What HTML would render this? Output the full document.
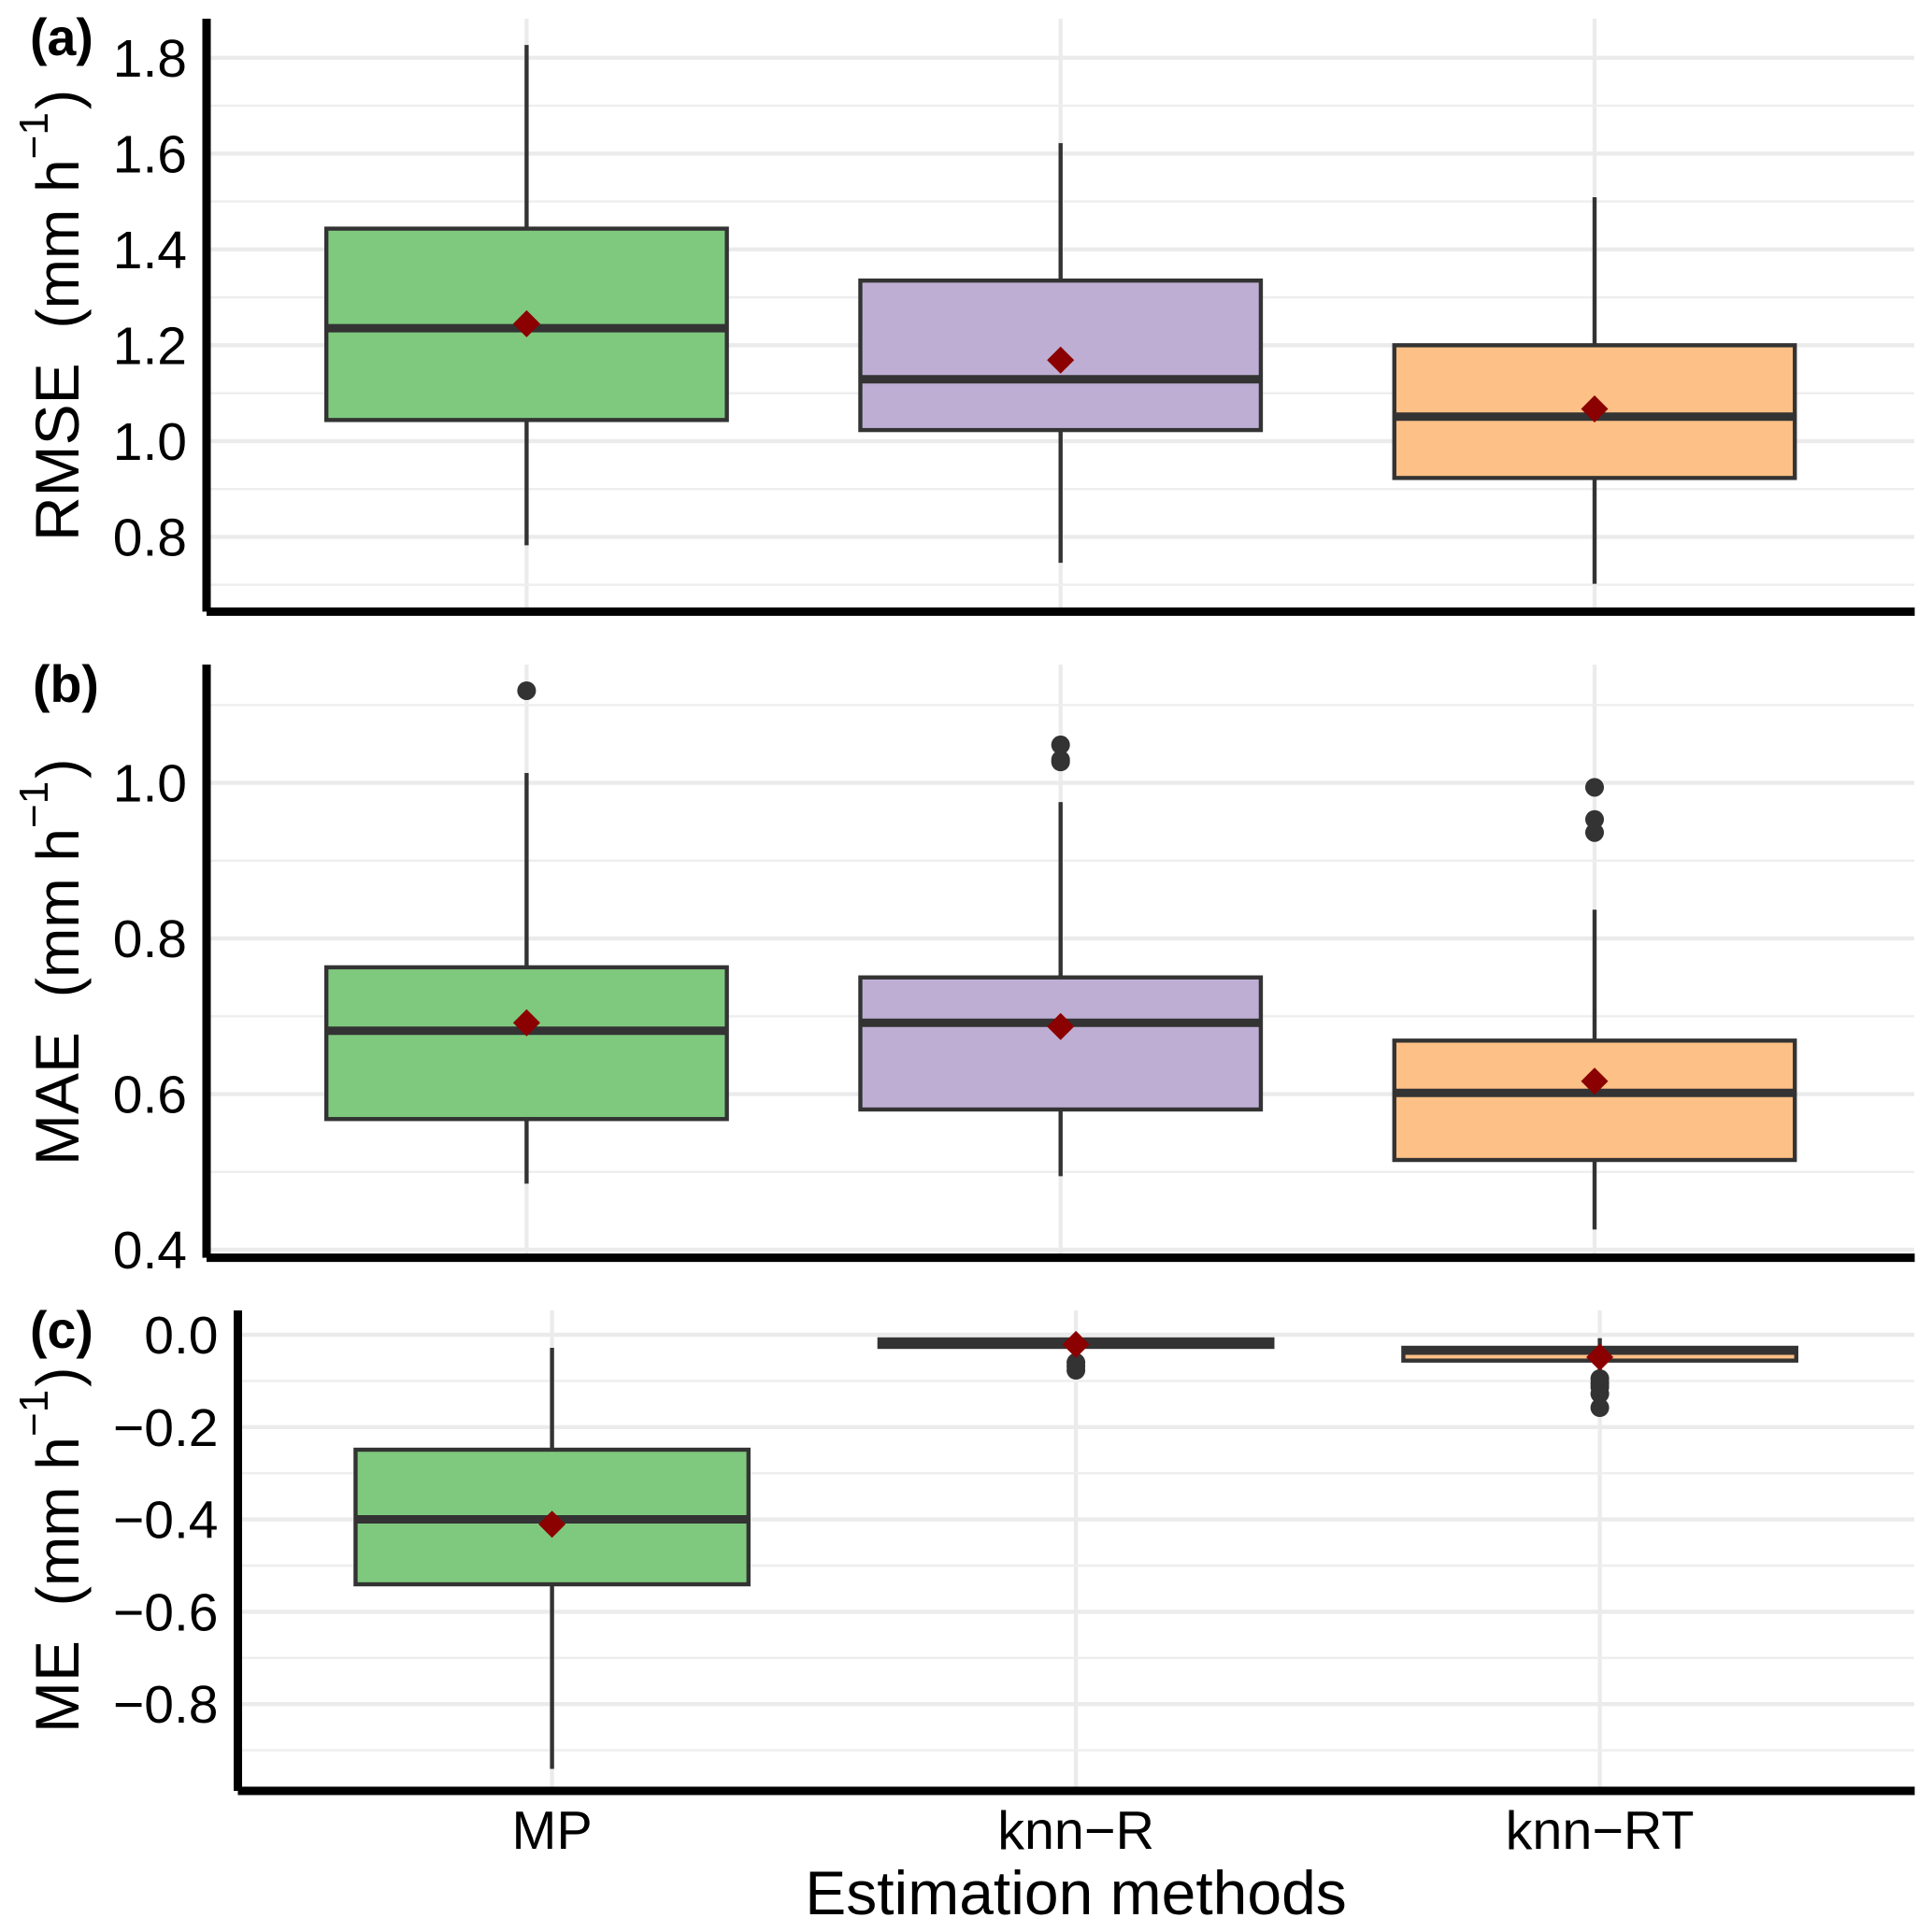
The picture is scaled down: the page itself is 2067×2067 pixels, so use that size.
<!DOCTYPE html>
<html>
<head>
<meta charset="utf-8">
<title>Estimation methods boxplots</title>
<style>
html,body{margin:0;padding:0;background:#fff;}
svg{display:block;}
text{font-family:"Liberation Sans",Arial,sans-serif;fill:#000;}
</style>
</head>
<body>
<svg id="chart" xmlns="http://www.w3.org/2000/svg" width="2067" height="2067" viewBox="0 0 2067 2067">
<rect x="0" y="0" width="2067" height="2067" fill="#fff"/>
<g id="layer-a"></g>
<g id="layer-b"></g>
<g id="layer-c"></g>

<text x="32" y="59" font-size="55.5" font-weight="bold">(a)</text>
<text x="35" y="751" font-size="55.5" font-weight="bold">(b)</text>
<text x="32" y="1442" font-size="55.5" font-weight="bold">(c)</text>

<text transform="translate(84,579) rotate(-90)" font-size="66" xml:space="preserve">RMSE  <tspan font-size="64">(mm h</tspan><tspan dy="-33" font-size="44">−1</tspan><tspan dy="33" dx="3" font-size="64">)</tspan></text>
<text transform="translate(84,1247) rotate(-90)" font-size="66" xml:space="preserve">MAE  <tspan font-size="64">(mm h</tspan><tspan dy="-33" font-size="44">−1</tspan><tspan dy="33" dx="3" font-size="64">)</tspan></text>
<text transform="translate(84,1854) rotate(-90)" font-size="66" xml:space="preserve">ME  <tspan font-size="64">(mm h</tspan><tspan dy="-33" font-size="44">−1</tspan><tspan dy="33" dx="3" font-size="64">)</tspan></text>

<text x="1151" y="2048" font-size="66" text-anchor="middle">Estimation methods</text>
</svg>
<script>
const categories = ['MP', 'knn\u2212R', 'knn\u2212RT'];
const fills = ['#7FC97F', '#BEAED4', '#FDC086'];

const rmseTicks = ['0.8', '1.0', '1.2', '1.4', '1.6', '1.8'];
const rmseMinor = [0.7, 0.9, 1.1, 1.3, 1.5, 1.7];
const rmseQ1 = [1.044, 1.023, 0.923];
const rmseMedian = [1.2356, 1.129, 1.051];
const rmseQ3 = [1.4434, 1.335, 1.2];
const rmseMean = [1.245, 1.169, 1.067];
const rmseWhiskerLow = [0.7826, 0.746, 0.702];
const rmseWhiskerHigh = [1.8268, 1.622, 1.509];
const rmseOutliers = [[], [], []];

const maeTicks = ['0.4', '0.6', '0.8', '1.0'];
const maeMinor = [0.5, 0.7, 0.9, 1.1];
const maeQ1 = [0.568, 0.5803, 0.5154];
const maeMedian = [0.6815, 0.6917, 0.6016];
const maeQ3 = [0.763, 0.75, 0.6688];
const maeMean = [0.6917, 0.6869, 0.6167];
const maeWhiskerLow = [0.485, 0.4945, 0.4261];
const maeWhiskerHigh = [1.0128, 0.9753, 0.837];
const maeOutliers = [[1.1185], [1.0489, 1.0297, 1.027], [0.9943, 0.953, 0.9362]];

const meTicks = ['\u22120.8', '\u22120.6', '\u22120.4', '\u22120.2', '0.0'];
const meMinor = [-0.9, -0.7, -0.5, -0.3, -0.1];
const meQ1 = [-0.5405, -0.0263, -0.056];
const meMedian = [-0.3998, -0.0182, -0.0344];
const meQ3 = [-0.249, -0.0101, -0.0283];
const meMean = [-0.4105, -0.021, -0.0486];
const meWhiskerLow = [-0.9403, -0.04, -0.085];
const meWhiskerHigh = [-0.0283, -0.0101, -0.0075];
const meOutliers = [[], [-0.06, -0.068, -0.077], [-0.095, -0.105, -0.113, -0.128, -0.158]];

const NS = 'http://www.w3.org/2000/svg';
const INK = '#333333';
const MEAN_COLOR = '#8B0000';
const GRID = '#EBEBEB';

function mk(tag, attrs, parent) {
  const node = document.createElementNS(NS, tag);
  for (const k in attrs) node.setAttribute(k, attrs[k]);
  parent.appendChild(node);
  return node;
}

function drawPanel(p) {
  const g = document.getElementById(p.layer);
  const xOf = i => p.x0 + i * p.dx;
  const half = p.dx * 0.375;

  categories.forEach((c, i) => {
    const v = mk('line', {x1: xOf(i), x2: xOf(i), y1: p.top, y2: p.bottom - 4, stroke: GRID, 'stroke-width': 4.2}, g);
    
    
  });
  p.minor.forEach(t => {
    const h = mk('line', {x1: p.axisX + 4, x2: 2048, y1: p.y(t), y2: p.y(t), stroke: '#EEEEEE', 'stroke-width': 2.4}, g);
    
    
  });
  p.ticks.forEach(t => {
    const val = parseFloat(t.replace('\u2212', '-'));
    const h = mk('line', {x1: p.axisX + 4, x2: 2048, y1: p.y(val), y2: p.y(val), stroke: GRID, 'stroke-width': 4.4}, g);
    
    
    const label = mk('text', {x: p.axisX - 21, y: p.y(val) + 20, 'font-size': 57, 'text-anchor': 'end'}, g);
    label.textContent = t;
    
    
  });

  categories.forEach((c, i) => {
    const cx = xOf(i);
    const w = mk('line', {x1: cx, x2: cx, y1: p.y(p.whiskerHigh[i]), y2: p.y(p.whiskerLow[i]), stroke: INK, 'stroke-width': 4.4}, g);
    
    

    p.outliers[i].forEach(o => {
      const dot = mk('circle', {cx: cx, cy: p.y(o), r: 10, fill: INK}, g);
      
      
    });

    const yTop = p.y(p.q3[i]);
    const yBottom = p.y(p.q1[i]);
    const box = mk('rect', {x: cx - half, y: yTop, width: half * 2, height: yBottom - yTop, fill: fills[i], stroke: INK, 'stroke-width': 4.4}, g);
    
    

    const med = mk('line', {x1: cx - half, x2: cx + half, y1: p.y(p.median[i]), y2: p.y(p.median[i]), stroke: INK, 'stroke-width': 9}, g);
    
    

    const my = p.y(p.mean[i]);
    const d = 14.5;
    const diamond = mk('polygon', {points: [cx, my - d, cx + d, my, cx, my + d, cx - d, my].join(' '), fill: MEAN_COLOR}, g);
    
    
  });

  const yAxis = mk('line', {x1: p.axisX, x2: p.axisX, y1: p.top, y2: p.bottom, stroke: '#000', 'stroke-width': 9}, g);
  
  
  const xAxis = mk('line', {x1: p.axisX, x2: 2048.5, y1: p.bottom, y2: p.bottom, stroke: '#000', 'stroke-width': 9}, g);
  
  
}

drawPanel({
  layer: 'layer-a', axisX: 221, top: 20, bottom: 654.4, x0: 563.4, dx: 571.3,
  y: v => 471.9 - (v - 1) * 512.6,
  ticks: rmseTicks, minor: rmseMinor, q1: rmseQ1, median: rmseMedian, q3: rmseQ3, mean: rmseMean,
  whiskerLow: rmseWhiskerLow, whiskerHigh: rmseWhiskerHigh, outliers: rmseOutliers
});
drawPanel({
  layer: 'layer-b', axisX: 221, top: 711, bottom: 1345.6, x0: 563.4, dx: 571.3,
  y: v => 1170.6 - (v - 0.6) * 832.5,
  ticks: maeTicks, minor: maeMinor, q1: maeQ1, median: maeMedian, q3: maeQ3, mean: maeMean,
  whiskerLow: maeWhiskerLow, whiskerHigh: maeWhiskerHigh, outliers: maeOutliers
});
drawPanel({
  layer: 'layer-c', axisX: 254.5, top: 1402, bottom: 1916, x0: 590.6, dx: 560.5,
  y: v => 1428 - v * 494,
  ticks: meTicks, minor: meMinor, q1: meQ1, median: meMedian, q3: meQ3, mean: meMean,
  whiskerLow: meWhiskerLow, whiskerHigh: meWhiskerHigh, outliers: meOutliers
});

const layerC = document.getElementById('layer-c');
categories.forEach((c, i) => {
  const t = mk('text', {x: 590.6 + i * 560.5, y: 1978, 'font-size': 57.5, 'text-anchor': 'middle'}, layerC);
  t.textContent = c;
  
  
});
</script>
</body>
</html>
